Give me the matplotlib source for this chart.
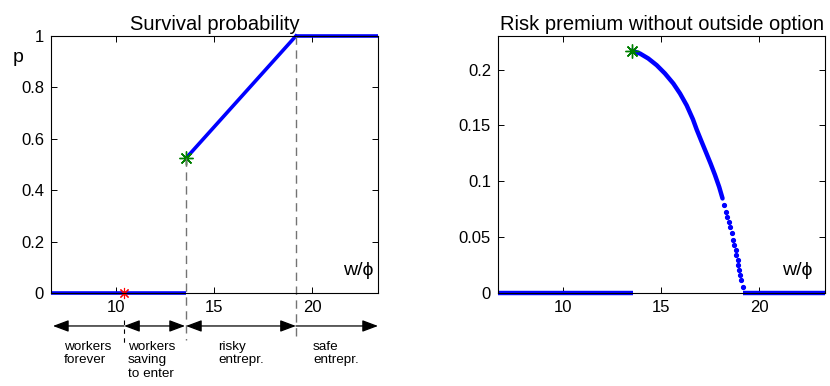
import numpy as np
import matplotlib
matplotlib.use('Agg')
import matplotlib.pyplot as plt

plt.rcParams['font.family'] = ['Liberation Sans', 'DejaVu Sans']

# Left panel: survival probability
x_left, x_right = 6.68, 23.37
w_exit = 10.41      # workers saving to enter start (red star)
w_risky = 13.57     # risky entrepreneurs start (green star)
w_safe = 19.18      # safe entrepreneurs start
p_risky_start = 0.525

# Right panel: risk premium
rp_upper_x = [13.52, 13.93, 14.35, 14.78, 15.20, 15.63, 15.97, 16.31, 16.63,
              16.82, 17.07, 17.32, 17.53, 17.75, 17.97, 18.14]
rp_upper_y = [0.217, 0.2143, 0.2099, 0.2039, 0.1965, 0.1875, 0.1786, 0.1680,
              0.1555, 0.1464, 0.1356, 0.1250, 0.1160, 0.1060, 0.0950, 0.0848]
rp_lower_x = [18.20, 18.30, 18.37, 18.47, 18.54, 18.61, 18.68, 18.75,
              18.81, 18.85, 18.92, 18.95, 18.98, 19.05, 19.09, 19.16]
rp_lower_y = [0.0789, 0.0729, 0.0684, 0.0639, 0.0595, 0.0536, 0.0476,
              0.0431, 0.0387, 0.0342, 0.0297, 0.0253, 0.0208, 0.0163, 0.0119,
              0.0059]
rp_zero_end = 13.55
rp_zero_start = 19.19

regions = ['workers\nforever', 'workers\nsaving\nto enter', 'risky\nentrepr.', 'safe\nentrepr.']
region_x = [7.35, 10.61, 15.2, 20.05]

blue = (0, 0, 1)
green = (0, 0.5, 0)
asterisk = (8, 2, 0)

fig = plt.figure(figsize=(8.3, 3.86), dpi=100)
ax1 = fig.add_axes([51 / 830, 1 - 293.3 / 386, 327 / 830, 257.3 / 386])
ax2 = fig.add_axes([498 / 830, 1 - 293.3 / 386, 327 / 830, 257.3 / 386])

for ax in (ax1, ax2):
    ax.tick_params(direction='in', top=True, right=True, length=4, width=0.7,
                   labelsize=12, pad=5)
    for s in ax.spines.values():
        s.set_linewidth(0.8)
    ax.set_xlim(x_left, x_right)
    ax.set_xticks([10, 15, 20])

# --- left panel
ax1.plot([x_left, w_risky], [0, 0], color=blue, lw=2.6, solid_capstyle='butt', clip_on=False)
ax1.plot([w_risky, w_safe], [p_risky_start, 1], color=blue, lw=2.6, clip_on=False)
ax1.plot([w_safe, x_right], [1, 1], color=blue, lw=2.6, solid_capstyle='butt', clip_on=False)
ax1.plot(w_risky, p_risky_start, marker=asterisk, color=green, ms=10, mew=1, clip_on=False)
ax1.plot(w_exit, 0, marker=asterisk, color='red', ms=8, mew=0.8, clip_on=False)
ax1.set_ylim(0, 1)
ax1.set_yticks([0, 0.2, 0.4, 0.6, 0.8, 1])
ax1.set_yticklabels(['0', '0.2', '0.4', '0.6', '0.8', '1'])
ax1.set_title('Survival probability', fontsize=14.5, pad=4)
ax1.text(-0.1, 0.915, 'p', transform=ax1.transAxes, fontsize=14, ha='center', va='center')
ax1.text(0.985, 0.09, 'w/ϕ', transform=ax1.transAxes, fontsize=14, ha='right', va='center')

# dashed guides below the axis
ax1.plot([w_risky, w_risky], [p_risky_start, -0.18], color='0.45', lw=1, ls=(0, (6, 4)), clip_on=False)
ax1.plot([w_safe, w_safe], [1, -0.18], color='0.45', lw=1, ls=(0, (6, 4)), clip_on=False)
ax1.plot([w_exit, w_exit], [-0.105, -0.2], color='black', lw=0.8, ls=(0, (4, 4)), clip_on=False)

arr_y = -0.127
arrows = [(w_exit, x_left + 0.1, '-|>'), (w_exit, w_risky - 0.05, '<|-|>'),
          (w_risky, w_safe, '<|-|>'), (w_safe, x_right, '-|>')]
for a, b, style in arrows:
    ax1.annotate('', xy=(b, arr_y), xytext=(a, arr_y), xycoords='data',
                 annotation_clip=False,
                 arrowprops=dict(arrowstyle=style + ',head_length=0.8,head_width=0.3',
                                 color='black', lw=0.9, shrinkA=0, shrinkB=0,
                                 mutation_scale=12))
for label, xpos in zip(regions, region_x):
    ax1.text(xpos, -0.185, label, fontsize=9.7, ha='left', va='top', linespacing=1.15,
             clip_on=False)

# --- right panel
ax2.plot([x_left, rp_zero_end], [0, 0], color=blue, lw=3.2, solid_capstyle='butt', clip_on=False)
ax2.plot([rp_zero_start, x_right], [0, 0], color=blue, lw=3.2, solid_capstyle='butt', clip_on=False)
ax2.plot(rp_upper_x, rp_upper_y, color=blue, lw=3.2, solid_capstyle='round')
ax2.plot(rp_lower_x, rp_lower_y, color=blue, ls='none', marker='.', ms=5.5)
ax2.plot(rp_upper_x[0], rp_upper_y[0], marker=asterisk, color=green, ms=10, mew=1, clip_on=False)
ax2.set_ylim(0, 0.23)
ax2.set_yticks([0, 0.05, 0.1, 0.15, 0.2])
ax2.set_yticklabels(['0', '0.05', '0.1', '0.15', '0.2'])
ax2.set_title('Risk premium without outside option', fontsize=14.5, pad=4)
ax2.text(0.963, 0.09, 'w/ϕ', transform=ax2.transAxes, fontsize=14, ha='right', va='center')

fig.savefig('out.png', dpi=100)
